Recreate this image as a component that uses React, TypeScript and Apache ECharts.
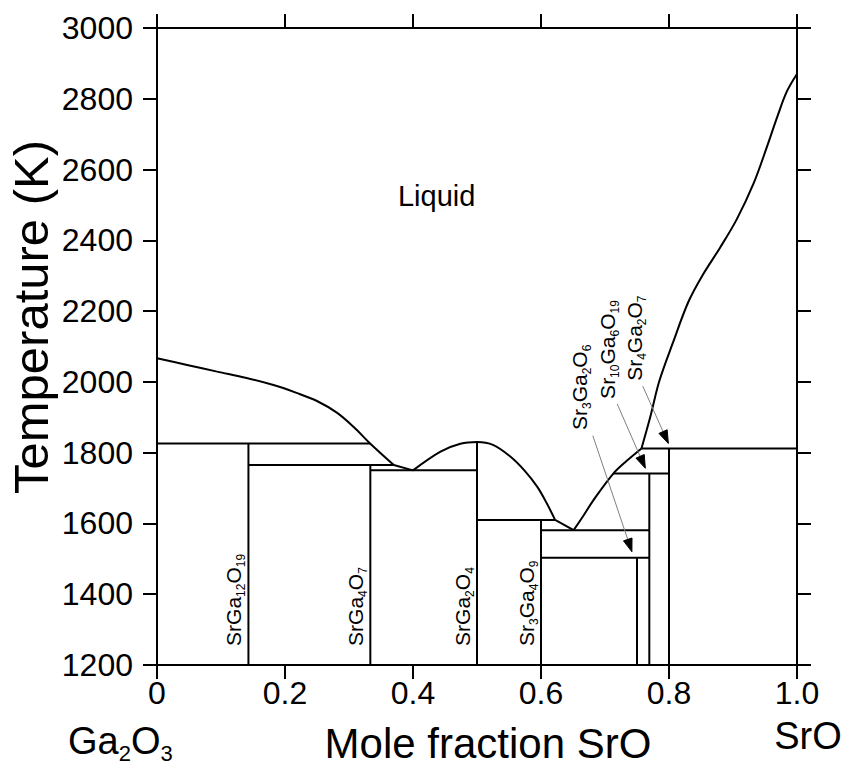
import React, { useEffect, useRef } from 'react';
import * as echarts from 'echarts';

// Liquidus branches, [mole fraction SrO, T (K)]
const liquidusGaSide = [[0, 2067], [0.047, 2048], [0.094, 2029], [0.14, 2011], [0.182, 1991], [0.218, 1969], [0.25, 1946], [0.281, 1913], [0.307, 1873], [0.333, 1826], [0.37, 1765]];
const liquidusEutectic1 = [[0.37, 1765], [0.4, 1750]];
const liquidusSrGa2O4 = [[0.4, 1750], [0.443, 1803], [0.474, 1825], [0.5, 1830], [0.525, 1822], [0.552, 1789], [0.575, 1748], [0.594, 1704], [0.609, 1657], [0.622, 1610]];
const liquidusEutectic2 = [[0.622, 1610], [0.651, 1581]];
const liquidusMid = [[0.651, 1581], [0.667, 1624], [0.682, 1666], [0.713, 1741], [0.734, 1777], [0.757, 1812]];
const liquidusSrOSide = [[0.757, 1812], [0.771, 1903], [0.785, 2003], [0.806, 2110], [0.83, 2225], [0.852, 2300], [0.88, 2380], [0.906, 2460], [0.932, 2560], [0.953, 2664], [0.969, 2748], [0.984, 2820], [1.0, 2870]];

// Invariant (horizontal) lines: start x, end x, T
const invariantStart = [0, 1 / 7, 1 / 3, 0.5, 0.6, 0.6, 0.713, 0.757];
const invariantEnd = [0.333, 0.37, 0.5, 0.622, 10 / 13, 10 / 13, 0.8, 1.0];
const invariantT = [1826, 1765, 1750, 1610, 1581, 1503, 1741, 1812];

// Compounds: composition and upper limit of stability
const compoundNames = ['SrGa12O19', 'SrGa4O7', 'SrGa2O4', 'Sr3Ga4O9', 'Sr3Ga2O6', 'Sr10Ga6O19', 'Sr4Ga2O7'];
const compoundX = [1 / 7, 1 / 3, 0.5, 0.6, 0.75, 10 / 13, 0.8];
const compoundTopT = [1826, 1765, 1830, 1610, 1503, 1741, 1812];

// Labels above the liquidus with arrows pointing to their phase lines
const arrowNames = ['Sr3Ga2O6', 'Sr10Ga6O19', 'Sr4Ga2O7'];
const arrowLabelAt = [[0.681, 1864], [0.725, 1952], [0.767, 2003]];
const arrowFrom = [[0.681, 1848], [0.719, 1938], [0.759, 1988]];
const arrowTo = [[0.742, 1520], [0.763, 1756], [0.799, 1826]];

const yMin = 1200;
const yMax = 3000;
const FONT = 'Liberation Sans, Arial, Helvetica, sans-serif';

const richFormula = (f: string) =>
  (f.match(/[A-Za-z]+|\d+/g) || []).map((t) => (/\d/.test(t) ? `{s|${t}}` : `{m|${t}}`)).join('');

const lineSeries = (data: number[][], smooth: number | boolean = false) => ({
  type: 'line',
  data,
  smooth,
  showSymbol: false,
  symbol: 'none',
  silent: true,
  clip: false,
  lineStyle: { color: '#000', width: 2 },
  z: 3,
});

// main letters hang from the top of the line box, subscripts sit on its bottom
const formulaRich = (main: number, sub: number, lh: number) => ({
  m: { fontSize: main, fontFamily: FONT, fill: '#000', lineHeight: lh, verticalAlign: 'top' },
  s: { fontSize: sub, fontFamily: FONT, fill: '#000', lineHeight: sub, verticalAlign: 'bottom' },
});

export default function App() {
  const ref = useRef<HTMLDivElement>(null);

  useEffect(() => {
    const chart = echarts.init(ref.current!, null, { renderer: 'svg' });

    const axisLine = { show: true, onZero: false, lineStyle: { color: '#000', width: 2 } };
    const axisTick = { show: true, inside: false, length: 14, lineStyle: { color: '#000', width: 2 } };

    const series: any[] = [
      lineSeries(liquidusGaSide, 0.35),
      lineSeries(liquidusEutectic1),
      lineSeries(liquidusSrGa2O4, 0.35),
      lineSeries(liquidusEutectic2),
      lineSeries(liquidusMid, 0.35),
      lineSeries(liquidusSrOSide, 0.35),
    ];
    invariantT.forEach((t, i) => {
      series.push(lineSeries([[invariantStart[i], t], [invariantEnd[i], t]]));
    });
    compoundX.forEach((x, i) => {
      series.push(lineSeries([[x, yMin], [x, compoundTopT[i]]]));
    });

    chart.setOption({
      animation: false,
      grid: { left: 157, right: 49, top: 28, bottom: 100 },
      xAxis: [
        {
          type: 'value', min: 0, max: 1, interval: 0.2, position: 'bottom',
          axisLine, axisTick, splitLine: { show: false },
          axisLabel: {
            color: '#000', fontSize: 32, fontFamily: FONT, margin: 12,
            formatter: (v: number) => (v === 0 ? '0' : v.toFixed(1)),
          },
        },
        {
          type: 'value', min: 0, max: 1, interval: 0.2, position: 'top',
          axisLine, axisTick, splitLine: { show: false }, axisLabel: { show: false },
        },
      ],
      yAxis: [
        {
          type: 'value', min: yMin, max: yMax, interval: 200, position: 'left',
          axisLine, axisTick, splitLine: { show: false },
          axisLabel: {
            color: '#000', fontSize: 32, fontFamily: FONT, margin: 24,
            formatter: (v: number) => String(v),
          },
        },
        {
          type: 'value', min: yMin, max: yMax, interval: 200, position: 'right',
          axisLine, axisTick, splitLine: { show: false }, axisLabel: { show: false },
        },
      ],
      series,
    });

    const px = (p: number[]) => chart.convertToPixel({ xAxisIndex: 0, yAxisIndex: 0 }, p) as number[];

    const rotatedFormula = (name: string, p: number[]) => ({
      type: 'text',
      x: p[0],
      y: p[1],
      rotation: Math.PI / 2,
      silent: true,
      z: 10,
      style: {
        text: richFormula(name),
        rich: formulaRich(21, 12, 24),
        align: 'left',
        verticalAlign: 'bottom',
        textAlign: 'left',
        textVerticalAlign: 'bottom',
      },
    });

    const graphics: any[] = [];

    // compound labels standing on the base line
    for (let i = 0; i < 4; i++) {
      const p = px([compoundX[i], 1254]);
      graphics.push(rotatedFormula(compoundNames[i], [p[0] - 1, p[1]]));
    }

    // labels with arrows
    arrowNames.forEach((name, i) => {
      graphics.push(rotatedFormula(name, px(arrowLabelAt[i])));
      const a = px(arrowFrom[i]);
      const b = px(arrowTo[i]);
      const dx = b[0] - a[0];
      const dy = b[1] - a[1];
      const len = Math.hypot(dx, dy);
      const ux = dx / len;
      const uy = dy / len;
      const headLen = 13;
      const headHalf = 4.5;
      const bx = b[0] - ux * headLen;
      const by = b[1] - uy * headLen;
      graphics.push({
        type: 'line', silent: true, z: 9,
        shape: { x1: a[0], y1: a[1], x2: bx, y2: by },
        style: { stroke: '#808080', lineWidth: 1 },
      });
      graphics.push({
        type: 'polygon', silent: true, z: 9,
        shape: {
          points: [
            [b[0], b[1]],
            [bx - uy * headHalf, by + ux * headHalf],
            [bx + uy * headHalf, by - ux * headHalf],
          ],
        },
        style: { fill: '#000', stroke: '#000', lineWidth: 1 },
      });
    });

    const liquidPos = px([0.437, 2525]);
    graphics.push({
      type: 'text', x: liquidPos[0], y: liquidPos[1], silent: true, z: 10,
      style: {
        text: 'Liquid', fontSize: 29, fontFamily: FONT, fill: '#000',
        align: 'center', verticalAlign: 'middle', textAlign: 'center', textVerticalAlign: 'middle',
      },
    });

    // axis titles and end-member names
    graphics.push({
      type: 'text', x: 31, y: 317, rotation: Math.PI / 2, silent: true,
      style: {
        text: 'Temperature (K)', fontSize: 49, fontFamily: FONT, fill: '#000',
        align: 'center', verticalAlign: 'middle', textAlign: 'center', textVerticalAlign: 'middle',
      },
    });
    graphics.push({
      type: 'text', x: 488, y: 743, silent: true,
      style: {
        text: 'Mole fraction SrO', fontSize: 42, fontFamily: FONT, fill: '#000',
        align: 'center', verticalAlign: 'middle', textAlign: 'center', textVerticalAlign: 'middle',
      },
    });
    graphics.push({
      type: 'text', x: 68, y: 764, silent: true,
      style: {
        text: richFormula('Ga2O3'), rich: formulaRich(38, 22, 42),
        align: 'left', verticalAlign: 'bottom', textAlign: 'left', textVerticalAlign: 'bottom',
      },
    });
    graphics.push({
      type: 'text', x: 808, y: 736, silent: true,
      style: {
        text: 'SrO', fontSize: 38, fontFamily: FONT, fill: '#000',
        align: 'center', verticalAlign: 'middle', textAlign: 'center', textVerticalAlign: 'middle',
      },
    });

    chart.setOption({ graphic: graphics });

    return () => chart.dispose();
  }, []);

  return <div ref={ref} style={{ position: 'fixed', left: 0, top: 0, width: 846, height: 765, background: '#fff' }} />;
}
